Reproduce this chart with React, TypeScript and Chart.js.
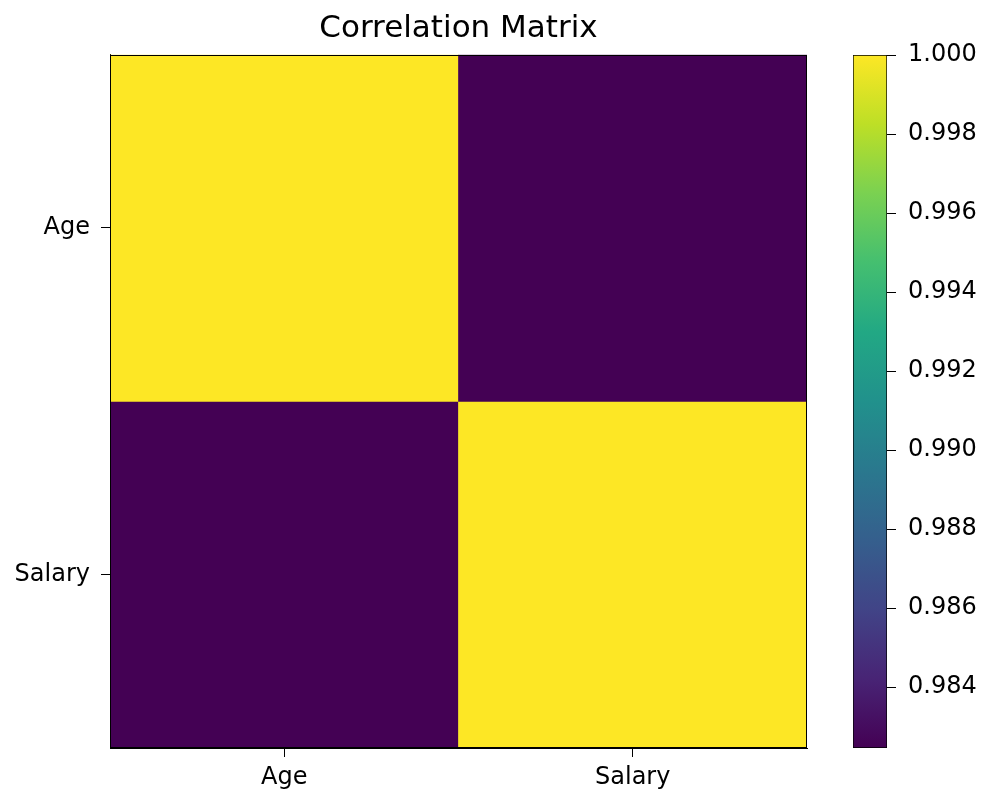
import React, { useEffect, useRef } from 'react';
import { Chart, registerables } from 'chart.js';

Chart.register(...registerables);

// ---- Data ----
const labels: string[] = ['Age', 'Salary'];
const rowAge: number[] = [1.0, 0.98246];
const rowSalary: number[] = [0.98246, 1.0];
const matrix: number[][] = [rowAge, rowSalary];
const colorMin = 0.98246;
const colorMax = 1.0;
const colorbarTicks: number[] = [0.984, 0.986, 0.988, 0.99, 0.992, 0.994, 0.996, 0.998, 1.0];

const FONT = "'DejaVu Sans', sans-serif";

// viridis colour stops
const viridisStops: [number, string][] = [
  [0.0, '#440154'],
  [0.1, '#482475'],
  [0.2, '#414487'],
  [0.3, '#355f8d'],
  [0.4, '#2a788e'],
  [0.5, '#21918c'],
  [0.6, '#22a884'],
  [0.7, '#44bf70'],
  [0.8, '#7ad151'],
  [0.9, '#bddf26'],
  [1.0, '#fde725'],
];

function hexToRgb(h: string): number[] {
  return [parseInt(h.slice(1, 3), 16), parseInt(h.slice(3, 5), 16), parseInt(h.slice(5, 7), 16)];
}

function viridis(t: number): string {
  const x = Math.max(0, Math.min(1, t));
  for (let i = 0; i < viridisStops.length - 1; i++) {
    const [t0, c0] = viridisStops[i];
    const [t1, c1] = viridisStops[i + 1];
    if (x >= t0 && x <= t1) {
      const f = (x - t0) / (t1 - t0);
      const a = hexToRgb(c0);
      const b = hexToRgb(c1);
      const c = a.map((v, k) => Math.round(v + (b[k] - v) * f));
      return `rgb(${c[0]},${c[1]},${c[2]})`;
    }
  }
  return viridisStops[viridisStops.length - 1][1];
}

const framePlugin = {
  id: 'frame',
  afterDraw(chart: any) {
    const a = chart.chartArea;
    const ctx = chart.ctx;
    ctx.save();
    ctx.strokeStyle = '#000';
    ctx.lineWidth = 1;
    ctx.strokeRect(Math.round(a.left) + 0.5, Math.round(a.top) + 0.5, Math.round(a.right - a.left) - 1, Math.round(a.bottom - a.top) - 1);
    ctx.restore();
  },
};

export default function App() {
  const mainRef = useRef<HTMLCanvasElement>(null);
  const cbRef = useRef<HTMLCanvasElement>(null);

  useEffect(() => {
    const tickFont = { family: FONT, size: 24 };
    const datasets = matrix.map((row, r) => ({
      label: labels[r],
      data: row.map(() => [r - 0.5, r + 0.5]),
      backgroundColor: row.map((v) => viridis((v - colorMin) / (colorMax - colorMin))),
      borderWidth: 0,
      grouped: false,
      barPercentage: 1,
      categoryPercentage: 1,
    }));

    const main = new Chart(mainRef.current as HTMLCanvasElement, {
      type: 'bar',
      data: { labels, datasets: datasets as any },
      plugins: [framePlugin],
      options: {
        responsive: false,
        animation: false,
        devicePixelRatio: 1,
        layout: { padding: { left: 0, right: 178, top: 0, bottom: 0 } },
        plugins: {
          legend: { display: false },
          tooltip: { enabled: false },
          title: {
            display: true,
            text: 'Correlation Matrix',
            fullSize: false,
            color: '#000',
            font: { family: FONT, size: 31, weight: 'normal', lineHeight: 1.15 },
            padding: { top: 11, bottom: 8 },
          } as any,
        },
        scales: {
          x: {
            type: 'category',
            grid: { display: true, drawOnChartArea: false, drawTicks: true, tickLength: 9, color: '#000', offset: false },
            border: { display: true, color: '#000', width: 1 },
            ticks: { color: '#000', font: tickFont, padding: 6, maxRotation: 0 },
            afterFit: (s: any) => { s.height = 53; },
          },
          y: {
            type: 'linear',
            min: -0.5,
            max: 1.5,
            reverse: true,
            grid: { display: true, drawOnChartArea: false, drawTicks: true, tickLength: 9, color: '#000' },
            border: { display: true, color: '#000', width: 1 },
            afterBuildTicks: (s: any) => { s.ticks = labels.map((_, i) => ({ value: i })); },
            ticks: {
              color: '#000',
              font: tickFont,
              padding: 11,
              callback: (v: any) => labels[Number(v)] ?? '',
            },
            afterFit: (s: any) => { s.width = 110; },
          },
        },
      } as any,
    });

    const cb = new Chart(cbRef.current as HTMLCanvasElement, {
      type: 'bar',
      data: {
        labels: ['colorbar'],
        datasets: [
          {
            data: [[colorMin, colorMax]] as any,
            backgroundColor: (ctx: any) => {
              const area = ctx.chart.chartArea;
              if (!area) return viridis(0.5);
              const g = ctx.chart.ctx.createLinearGradient(0, area.bottom, 0, area.top);
              viridisStops.forEach(([t, c]) => g.addColorStop(t, c));
              return g;
            },
            borderColor: '#000',
            borderWidth: 1,
            borderSkipped: false,
            barPercentage: 1,
            categoryPercentage: 1,
          } as any,
        ],
      },
      options: {
        responsive: false,
        animation: false,
        devicePixelRatio: 1,
        layout: { padding: { left: 853, right: 0, top: 55, bottom: 53 } },
        plugins: { legend: { display: false }, tooltip: { enabled: false }, title: { display: false } },
        scales: {
          x: { type: 'category', display: false },
          y: {
            type: 'linear',
            position: 'right',
            min: colorMin,
            max: colorMax,
            grid: { display: true, drawOnChartArea: false, drawTicks: true, tickLength: 9, color: '#000' },
            border: { display: false },
            afterBuildTicks: (s: any) => { s.ticks = colorbarTicks.map((v) => ({ value: v })); },
            ticks: {
              color: '#000',
              font: tickFont,
              padding: 12,
              callback: (v: any) => Number(v).toFixed(3),
            },
            afterFit: (s: any) => { s.width = 98; },
          },
        },
      } as any,
    });

    return () => {
      main.destroy();
      cb.destroy();
    };
  }, []);

  const canvasStyle: React.CSSProperties = { position: 'absolute', left: 0, top: 0, width: 985, height: 801 };
  return (
    <div style={{ position: 'absolute', left: 0, top: 0, width: 985, height: 801, background: '#fff', overflow: 'hidden' }}>
      <canvas ref={mainRef} width={985} height={801} style={canvasStyle} />
      <canvas ref={cbRef} width={985} height={801} style={{ ...canvasStyle, pointerEvents: 'none' }} />
    </div>
  );
}
